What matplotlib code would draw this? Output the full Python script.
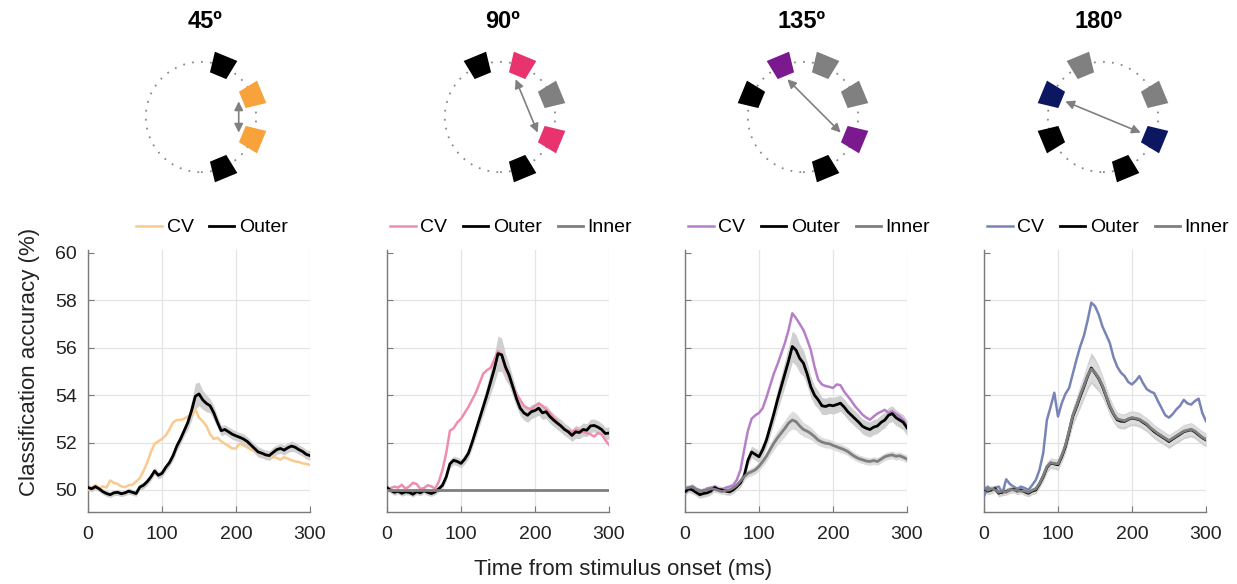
import numpy as np
import matplotlib
matplotlib.use("Agg")
import matplotlib.pyplot as plt
from matplotlib.patches import Circle, Polygon, FancyArrowPatch

plt.rcParams['font.family'] = ['Liberation Sans', 'DejaVu Sans']

# time axis (ms), one sample every 5 ms
time_ms = list(range(0, 301, 5))

titles = ['45º', '90º', '135º', '180º']

# ---- 45 deg ----
p1_cv = [50.00, 50.10, 50.20, 50.05, 50.15, 50.10, 50.40, 50.30, 50.25, 50.15,
         50.12, 50.20, 50.22, 50.35, 50.50, 50.80, 51.15, 51.60, 51.95, 52.05,
         52.15, 52.30, 52.55, 52.85, 52.95, 52.95, 53.00, 53.10, 53.20, 53.40,
         53.05, 52.90, 52.70, 52.35, 52.15, 52.20, 52.05, 51.95, 51.85, 51.75,
         51.75, 51.95, 51.88, 51.80, 51.70, 51.65, 51.60, 51.55, 51.48, 51.45,
         51.40, 51.35, 51.28, 51.38, 51.32, 51.25, 51.20, 51.18, 51.12, 51.10,
         51.05]
p1_outer = [50.10, 50.05, 50.14, 50.05, 49.93, 49.85, 49.80, 49.88, 49.90, 49.84,
            49.88, 49.95, 49.90, 49.85, 50.12, 50.20, 50.35, 50.55, 50.80, 50.62,
            50.70, 50.95, 51.15, 51.45, 51.85, 52.15, 52.50, 52.85, 53.35, 53.95,
            54.05, 53.80, 53.65, 53.55, 53.25, 52.85, 52.50, 52.55, 52.45, 52.35,
            52.28, 52.22, 52.15, 52.05, 51.90, 51.75, 51.60, 51.55, 51.48, 51.45,
            51.58, 51.70, 51.75, 51.68, 51.78, 51.85, 51.80, 51.70, 51.62, 51.50,
            51.45]
p1_outer_sem = [0.12, 0.12, 0.13, 0.12, 0.12, 0.13, 0.12, 0.12, 0.13, 0.12,
                0.12, 0.13, 0.12, 0.12, 0.13, 0.15, 0.15, 0.16, 0.15, 0.15,
                0.16, 0.15, 0.16, 0.20, 0.20, 0.22, 0.22, 0.30, 0.40, 0.55,
                0.50, 0.40, 0.35, 0.30, 0.30, 0.25, 0.22, 0.20, 0.20, 0.22,
                0.20, 0.20, 0.22, 0.20, 0.20, 0.20, 0.22, 0.20, 0.20, 0.20,
                0.22, 0.20, 0.20, 0.22, 0.20, 0.22, 0.20, 0.20, 0.20, 0.20,
                0.20]

# ---- 90 deg ----
p2_cv = [50.00, 50.08, 50.14, 50.10, 50.22, 50.05, 50.15, 50.30, 50.25, 50.05,
         50.08, 50.20, 50.15, 50.05, 50.35, 50.85, 51.55, 52.50, 52.60, 52.85,
         53.00, 53.25, 53.50, 53.80, 54.10, 54.50, 54.90, 55.05, 55.15, 55.50,
         55.85, 55.70, 55.10, 54.75, 54.35, 54.05, 53.80, 53.55, 53.45, 53.40,
         53.55, 53.65, 53.55, 53.40, 53.25, 53.05, 52.90, 52.70, 52.55, 52.50,
         52.45, 52.55, 52.52, 52.45, 52.40, 52.35, 52.25, 52.40, 52.35, 52.10,
         51.90]
p2_outer = [50.10, 49.98, 49.90, 49.95, 49.86, 49.92, 49.90, 49.82, 49.93, 49.88,
            49.97, 49.90, 49.85, 49.92, 50.05, 50.20, 50.55, 51.10, 51.25, 51.20,
            51.12, 51.30, 51.55, 52.00, 52.50, 53.00, 53.50, 54.00, 54.55, 55.10,
            55.75, 55.70, 55.20, 54.85, 54.35, 53.85, 53.45, 53.25, 53.15, 53.30,
            53.35, 53.45, 53.25, 53.30, 53.10, 52.95, 52.82, 52.70, 52.55, 52.45,
            52.30, 52.45, 52.42, 52.55, 52.52, 52.70, 52.72, 52.65, 52.55, 52.38,
            52.40]
p2_inner = [50.00, 50.00, 50.00, 50.00, 50.00, 50.00, 50.00, 50.00, 50.00, 50.00,
            50.00, 50.00, 50.00, 50.00, 50.00, 50.00, 50.00, 50.00, 50.00, 50.00,
            50.00, 50.00, 50.00, 50.00, 50.00, 50.00, 50.00, 50.00, 50.00, 50.00,
            50.00, 50.00, 50.00, 50.00, 50.00, 50.00, 50.00, 50.00, 50.00, 50.00,
            50.00, 50.00, 50.00, 50.00, 50.00, 50.00, 50.00, 50.00, 50.00, 50.00,
            50.00, 50.00, 50.00, 50.00, 50.00, 50.00, 50.00, 50.00, 50.00, 50.00,
            50.00]
p2_outer_sem = [0.12, 0.12, 0.13, 0.12, 0.12, 0.13, 0.12, 0.12, 0.13, 0.12,
                0.12, 0.13, 0.12, 0.12, 0.13, 0.15, 0.16, 0.18, 0.18, 0.18,
                0.18, 0.20, 0.22, 0.25, 0.28, 0.30, 0.35, 0.40, 0.50, 0.60,
                0.75, 0.70, 0.55, 0.45, 0.40, 0.35, 0.32, 0.30, 0.30, 0.30,
                0.28, 0.30, 0.28, 0.28, 0.28, 0.27, 0.27, 0.27, 0.26, 0.26,
                0.26, 0.27, 0.26, 0.28, 0.27, 0.28, 0.27, 0.27, 0.26, 0.26,
                0.26]

# ---- 135 deg ----
p3_cv = [49.86, 50.00, 50.14, 50.05, 50.00, 49.95, 50.07, 50.10, 50.14, 50.05,
         50.00, 50.10, 50.14, 50.20, 50.42, 50.85, 51.70, 52.50, 53.00, 53.15,
         53.25, 53.45, 53.90, 54.40, 54.90, 55.30, 55.75, 56.20, 56.75, 57.45,
         57.25, 57.00, 56.75, 56.35, 55.90, 55.20, 54.65, 54.45, 54.38, 54.35,
         54.30, 54.45, 54.42, 54.15, 53.95, 53.75, 53.52, 53.35, 53.17, 53.05,
         52.96, 53.10, 53.22, 53.30, 53.38, 53.25, 53.32, 53.20, 53.10, 52.95,
         52.70]
p3_outer = [49.93, 50.05, 50.00, 49.90, 49.80, 49.85, 49.88, 49.95, 50.10, 50.02,
            50.00, 49.95, 49.92, 50.00, 50.14, 50.30, 50.60, 51.25, 51.60, 51.50,
            51.40, 51.70, 52.10, 52.65, 53.20, 53.80, 54.35, 54.90, 55.45, 56.05,
            55.90, 55.55, 55.35, 54.90, 54.35, 54.00, 53.80, 53.55, 53.52, 53.58,
            53.55, 53.60, 53.66, 53.50, 53.30, 53.15, 53.00, 52.85, 52.68, 52.60,
            52.55, 52.65, 52.70, 52.85, 52.95, 53.15, 53.22, 53.05, 52.95, 52.85,
            52.62]
p3_inner = [50.07, 50.10, 50.14, 50.02, 49.93, 49.98, 50.00, 50.05, 50.03, 49.98,
            49.93, 49.98, 50.00, 50.08, 50.20, 50.38, 50.56, 50.70, 50.77, 50.85,
            51.00, 51.20, 51.42, 51.70, 51.97, 52.20, 52.40, 52.60, 52.82, 52.95,
            52.88, 52.70, 52.55, 52.48, 52.38, 52.25, 52.10, 52.02, 51.97, 51.95,
            51.88, 51.82, 51.76, 51.70, 51.62, 51.50, 51.40, 51.32, 51.27, 51.22,
            51.20, 51.24, 51.20, 51.30, 51.40, 51.45, 51.48, 51.42, 51.44, 51.38,
            51.30]
p3_outer_sem = [0.15, 0.15, 0.16, 0.15, 0.15, 0.16, 0.15, 0.15, 0.16, 0.15,
                0.15, 0.16, 0.15, 0.15, 0.16, 0.18, 0.20, 0.22, 0.25, 0.25,
                0.26, 0.28, 0.30, 0.35, 0.40, 0.45, 0.50, 0.55, 0.60, 0.65,
                0.65, 0.60, 0.55, 0.50, 0.45, 0.40, 0.38, 0.36, 0.35, 0.35,
                0.35, 0.35, 0.34, 0.34, 0.33, 0.33, 0.33, 0.32, 0.32, 0.32,
                0.32, 0.32, 0.32, 0.33, 0.33, 0.33, 0.33, 0.33, 0.32, 0.32,
                0.32]
p3_inner_sem = [0.12, 0.12, 0.13, 0.12, 0.12, 0.13, 0.12, 0.12, 0.13, 0.12,
                0.12, 0.13, 0.12, 0.12, 0.13, 0.14, 0.15, 0.16, 0.17, 0.18,
                0.19, 0.20, 0.22, 0.25, 0.28, 0.30, 0.32, 0.34, 0.36, 0.38,
                0.36, 0.34, 0.30, 0.28, 0.26, 0.24, 0.22, 0.20, 0.20, 0.19,
                0.18, 0.18, 0.18, 0.17, 0.17, 0.17, 0.16, 0.16, 0.16, 0.16,
                0.16, 0.16, 0.16, 0.16, 0.16, 0.16, 0.16, 0.16, 0.16, 0.16,
                0.16]

# ---- 180 deg ----
p4_cv = [49.72, 50.14, 50.00, 50.10, 50.14, 49.86, 50.45, 50.25, 50.14, 50.05,
         50.14, 50.08, 50.00, 50.20, 50.42, 50.85, 51.55, 52.95, 53.50, 54.10,
         53.10, 53.65, 54.05, 54.30, 54.90, 55.50, 56.05, 56.50, 57.15, 57.90,
         57.75, 57.40, 56.90, 56.55, 56.20, 55.60, 55.20, 54.95, 54.80, 54.55,
         54.45, 54.60, 54.80, 54.50, 54.25, 54.15, 54.08, 53.75, 53.45, 53.15,
         53.05, 53.20, 53.40, 53.55, 53.80, 53.65, 53.60, 53.75, 53.85, 53.25,
         52.90]
p4_outer = [50.07, 49.95, 50.00, 50.05, 49.86, 49.92, 49.93, 50.00, 50.03, 49.95,
            50.00, 49.92, 49.86, 49.95, 50.00, 50.25, 50.56, 50.95, 51.13, 51.10,
            51.06, 51.40, 51.83, 52.45, 53.10, 53.50, 53.94, 54.35, 54.79, 55.14,
            54.93, 54.70, 54.37, 53.95, 53.52, 53.20, 52.96, 52.90, 52.89, 52.98,
            53.03, 53.00, 52.96, 52.85, 52.75, 52.60, 52.46, 52.35, 52.25, 52.15,
            52.04, 52.15, 52.25, 52.35, 52.46, 52.50, 52.54, 52.45, 52.32, 52.20,
            52.11]
p4_inner = [50.10, 49.98, 50.05, 50.00, 49.90, 49.95, 49.90, 50.02, 50.00, 49.98,
            49.95, 49.95, 49.90, 49.98, 50.05, 50.28, 50.60, 50.98, 51.15, 51.12,
            51.10, 51.45, 51.88, 52.50, 53.15, 53.55, 54.00, 54.40, 54.82, 55.10,
            54.95, 54.72, 54.40, 53.98, 53.55, 53.22, 53.00, 52.95, 52.92, 53.00,
            53.05, 53.02, 52.98, 52.88, 52.78, 52.62, 52.50, 52.38, 52.28, 52.18,
            52.08, 52.18, 52.28, 52.38, 52.48, 52.52, 52.56, 52.48, 52.35, 52.22,
            52.14]
p4_outer_sem = [0.15, 0.15, 0.16, 0.15, 0.15, 0.16, 0.15, 0.15, 0.16, 0.15,
                0.15, 0.16, 0.15, 0.15, 0.16, 0.18, 0.20, 0.22, 0.22, 0.22,
                0.24, 0.26, 0.28, 0.32, 0.38, 0.42, 0.48, 0.52, 0.58, 0.65,
                0.62, 0.55, 0.48, 0.42, 0.38, 0.35, 0.33, 0.32, 0.32, 0.32,
                0.31, 0.31, 0.31, 0.30, 0.30, 0.30, 0.30, 0.30, 0.29, 0.29,
                0.29, 0.29, 0.29, 0.30, 0.30, 0.30, 0.30, 0.29, 0.29, 0.29,
                0.29]
p4_inner_sem = [0.12, 0.12, 0.13, 0.12, 0.12, 0.13, 0.12, 0.12, 0.13, 0.12,
                0.12, 0.13, 0.12, 0.12, 0.13, 0.15, 0.17, 0.18, 0.18, 0.18,
                0.20, 0.22, 0.24, 0.27, 0.30, 0.34, 0.38, 0.42, 0.46, 0.50,
                0.48, 0.44, 0.40, 0.36, 0.32, 0.30, 0.27, 0.26, 0.25, 0.25,
                0.25, 0.24, 0.24, 0.24, 0.24, 0.23, 0.23, 0.23, 0.23, 0.23,
                0.23, 0.23, 0.23, 0.24, 0.24, 0.24, 0.24, 0.23, 0.23, 0.23,
                0.23]

cv_series = [p1_cv, p2_cv, p3_cv, p4_cv]
outer_series = [p1_outer, p2_outer, p3_outer, p4_outer]
inner_series = [None, p2_inner, p3_inner, p4_inner]
outer_sems = [p1_outer_sem, p2_outer_sem, p3_outer_sem, p4_outer_sem]
inner_sems = [None, None, p3_inner_sem, p4_inner_sem]

cv_colors = ['#fbc98e', '#ee8eae', '#b67fca', '#7884b6']
target_colors = ['#f7a23b', '#e8336e', '#7b1a8e', '#0b1760']

# stimulus wheel: angles (deg) of black / grey / coloured squares per condition
black_angles = [[67.5, -67.5], [112.5, -67.5], [157.5, -67.5], [-157.5, -67.5]]
grey_angles = [[], [22.5], [67.5, 22.5], [112.5, 22.5]]
target_angles = [[22.5, -22.5], [67.5, -22.5], [112.5, -22.5], [157.5, -22.5]]

W, H = 1237, 584
fig = plt.figure(figsize=(W / 100, H / 100), dpi=100)

ax_left_px = [88, 387, 685, 984]
wheel_cx = [201, 500, 803, 1103]
wheel_cy = 117
title_x = [205, 503, 802, 1099]


def square(ax, ang, col):
    th = np.deg2rad(ang)
    u = np.array([np.cos(th), np.sin(th)])
    v = np.array([-np.sin(th), np.cos(th)])
    r0, r1, w0, w1 = 0.81, 1.19, 0.16, 0.22
    pts = [r0 * u - w0 * v, r0 * u + w0 * v, r1 * u + w1 * v, r1 * u - w1 * v]
    ax.add_patch(Polygon(pts, closed=True, fc=col, ec='none'))


for i in range(4):
    # wheel schematic
    wa = fig.add_axes([(wheel_cx[i] - 80) / W, 1 - (wheel_cy + 80) / H, 160 / W, 160 / H])
    wa.set_xlim(-1.45, 1.45)
    wa.set_ylim(-1.45, 1.45)
    wa.set_aspect('equal')
    wa.axis('off')
    wa.add_patch(Circle((0, 0), 1.0, fill=False, ls=(0, (1, 4)), lw=1.3, ec='#8a8a8a'))
    for a in black_angles[i]:
        square(wa, a, 'black')
    for a in grey_angles[i]:
        square(wa, a, '#808080')
    for a in target_angles[i]:
        square(wa, a, target_colors[i])
    a1, a2 = np.deg2rad(target_angles[i])
    r = 0.74
    wa.add_patch(FancyArrowPatch((r * np.cos(a1), r * np.sin(a1)), (r * np.cos(a2), r * np.sin(a2)),
                                 arrowstyle='<|-|>', mutation_scale=13, color='#808080', lw=1.2,
                                 shrinkA=0, shrinkB=0))
    fig.text(title_x[i] / W, 1 - 22 / H, titles[i], ha='center', va='center',
             fontsize=17, fontweight='bold')

    # time course
    ax = fig.add_axes([ax_left_px[i] / W, 1 - 512 / H, 222 / W, 262 / H])
    t = np.array(time_ms)
    outer = np.array(outer_series[i])
    sem = np.array(outer_sems[i])
    ax.fill_between(t, outer - sem, outer + sem, color='#cfcfcf', lw=0, zorder=1)
    if inner_sems[i] is not None:
        inn = np.array(inner_series[i])
        isem = np.array(inner_sems[i])
        ax.fill_between(t, inn - isem, inn + isem, color='#dcdcdc', lw=0, zorder=1)
    ax.plot(t, cv_series[i], color=cv_colors[i], lw=1.8, label='CV', zorder=3)
    ax.plot(t, outer, color='black', lw=2.0, label='Outer', zorder=4)
    if inner_series[i] is not None:
        ax.plot(t, inner_series[i], color='#7f7f7f', lw=2.0, label='Inner', zorder=5)

    ax.set_xlim(0, 300)
    ax.set_ylim(49.07, 60.12)
    ax.set_xticks([0, 100, 200, 300])
    ax.set_yticks([50, 52, 54, 56, 58, 60])
    ax.grid(True, color='#e4e4e4', lw=0.9)
    ax.set_axisbelow(True)
    ax.get_ygridlines()[-1].set_visible(False)
    for s in ['top', 'right']:
        ax.spines[s].set_visible(False)
    for s in ['left', 'bottom']:
        ax.spines[s].set_color('#7a7a7a')
        ax.spines[s].set_linewidth(1.0)
    ax.tick_params(direction='in', length=4, color='#7a7a7a', labelsize=14,
                   labelcolor='#222222')
    ax.tick_params(axis='x', pad=10)
    ax.tick_params(axis='y', pad=8)
    if i > 0:
        ax.set_yticklabels([])
    ax.legend(loc='lower center', bbox_to_anchor=(0.56, 1.0), ncol=3, frameon=False,
              fontsize=14, handlelength=1.3, handletextpad=0.25, columnspacing=0.8,
              borderaxespad=0.3)

fig.text(30 / W, 1 - 362 / H, 'Classification accuracy (%)', rotation=90,
         ha='center', va='center', fontsize=16, color='#222222')
fig.text(623 / W, 1 - 569 / H, 'Time from stimulus onset (ms)', ha='center',
         va='center', fontsize=16, color='#222222')

fig.savefig('out.png', dpi=100)
